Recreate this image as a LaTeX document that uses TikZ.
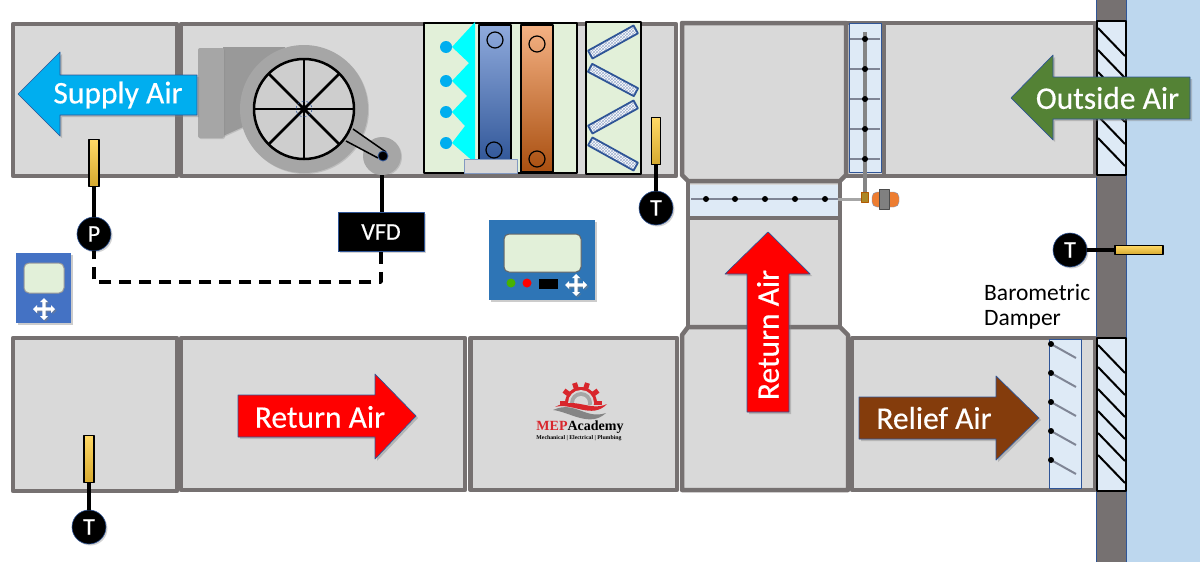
\documentclass[tikz,border=0pt]{standalone}
\usepackage{fontspec}
\setmainfont{Carlito}
\newfontfamily\airfont[FakeBold=0.4]{Carlito}
\newfontfamily\logofont{Liberation Serif}
\usetikzlibrary{shadows,patterns}

\definecolor{ductgray}{HTML}{D9D9D9}
\definecolor{ductline}{HTML}{767171}
\definecolor{outdoorblue}{HTML}{BDD7EE}
\definecolor{damperblue}{HTML}{DEEAF6}
\definecolor{panelblue}{HTML}{2F5597}
\definecolor{coilgreen}{HTML}{E2F0D9}
\definecolor{bladegray}{HTML}{7F8595}
\definecolor{fangray}{HTML}{A6A6A6}
\definecolor{supplyblue}{HTML}{00AEEF}
\definecolor{spraycyan}{HTML}{00FFFF}
\definecolor{outsidegreen}{HTML}{548235}
\definecolor{reliefbrown}{HTML}{843C0C}
\definecolor{logored}{HTML}{D8262C}
\definecolor{controlblue}{HTML}{2E75B6}
\definecolor{smallblue}{HTML}{4472C4}
\definecolor{coilblue}{HTML}{8FAADC}
\definecolor{coilorange}{HTML}{ED7D31}
\definecolor{coilpeach}{HTML}{F4B183}
\definecolor{coilbrown}{HTML}{A94F10}
\definecolor{probetop}{HTML}{FFD966}
\definecolor{probebottom}{HTML}{D6A92F}

\tikzset{
  duct/.style={draw=ductline,fill=ductgray,line width=4.5pt},
  louver/.style={draw=black,fill=damperblue,line width=2.5pt},
  damper/.style={draw=panelblue,fill=damperblue,line width=0.7pt},
  blade/.style={draw=bladegray,line width=2pt},
  airarrow/.style={draw=panelblue,line width=0.7pt,drop shadow={opacity=0.4,shadow xshift=2pt,shadow yshift=-2pt}},
  airtext/.style={text=white,font=\airfont\fontsize{31.5}{31.5}\selectfont,inner sep=0pt},
  tsensor/.style={circle,fill=black,draw=panelblue,line width=0.6pt,minimum size=34pt,inner sep=0pt,text=white,
    font=\airfont\fontsize{24}{24}\selectfont,drop shadow={opacity=0.35,shadow xshift=1.5pt,shadow yshift=-1.5pt}},
  probe/.style={rectangle,draw=black,line width=1.6pt,top color=probetop,bottom color=probebottom,inner sep=0pt},
  sensorline/.style={draw=black,line width=3.5pt},
  filterpad/.style={rectangle,draw=panelblue,line width=1.8pt,minimum width=52pt,minimum height=9pt,inner sep=0pt,
    preaction={fill=white},pattern=crosshatch,pattern color=panelblue!45},
  movecross/.pic={
    \fill[white,drop shadow={opacity=0.5,shadow xshift=1.5pt,shadow yshift=-1.5pt}]
      (-11,0)--(-7,-4)--(-7,-1.7)--(-1.7,-1.7)--(-1.7,-7)--(-4,-7)--(0,-11)--(4,-7)--(1.7,-7)--(1.7,-1.7)
      --(7,-1.7)--(7,-4)--(11,0)--(7,4)--(7,1.7)--(1.7,1.7)--(1.7,7)--(4,7)--(0,11)--(-4,7)--(-1.7,7)
      --(-1.7,1.7)--(-7,1.7)--(-7,4)--cycle;
  }
}

\begin{document}
\begin{tikzpicture}[
  x=1pt,
  y=-1pt,
  line join=round
]
  \useasboundingbox (0,0) rectangle (1200,562);

  % Outdoors and wall
  \fill[outdoorblue] (1126,0) rectangle (1200,562);
  \fill[ductline] (1096,0) rectangle (1126,562);
  \draw[panelblue,line width=0.6pt] (1096,0)--(1096,562) (1126,0)--(1126,562);

  % Upper duct row
  \draw[duct] (13,24) rectangle (177,176);
  \draw[duct] (181,24) rectangle (676,176);
  \draw[duct] (846,23) rectangle (1095,176);
  \draw[ductline,line width=4pt] (883.5,23)--(883.5,176);

  % Mixing section
  \draw[duct] (688,181) rectangle (840,218);
  \draw[duct] (688,218) rectangle (840,327);
  \draw[duct] (682,23)--(846,23)--(846,175)--(840,181)--(688,181)--(682,175)--cycle;

  % Lower duct row
  \draw[duct] (13,338) rectangle (177,491);
  \draw[duct] (181,338) rectangle (465,490);
  \draw[duct] (470.5,338) rectangle (677,490);
  \draw[duct] (682,490)--(848,490)--(848,335)--(840,327)--(688,327)--(682,335)--cycle;
  \draw[duct] (852,338) rectangle (1095,490);

  % Louvers
  \draw[louver] (1097,21) rectangle (1126,175);
  \draw[louver] (1097,338) rectangle (1126,491);
  \foreach \y in {28,50,72,94,116,138}
    \draw[black,line width=2pt] (1098,\y)--(1125,\y+28);
  \foreach \y in {345,367,389,411,433,455}
    \draw[black,line width=2pt] (1098,\y)--(1125,\y+28);

  % Outside air damper
  \draw[damper] (849,23) rectangle (881,172);
  \draw[fangray!80!black,line width=3.5pt] (865,32)--(865,193);
  \foreach \y in {39,69,99,129,159} {
    \draw[blade] (850,\y)--(880,\y);
    \fill (865,\y) circle (3);
  }

  % Return air damper
  \fill[damperblue] (690,185) rectangle (838,216);
  \draw[blade] (691,199)--(838,199);
  \draw[fangray,line width=3pt] (838,199)--(862,199);
  \foreach \x in {706,735,765,795,825}
    \fill (\x,199) circle (3);

  % Actuator
  \draw[orange!70!black,fill=probebottom!80!black,line width=0.4pt] (861,192) rectangle (868,202);
  \draw[panelblue!60,fill=coilorange,line width=0.4pt,rounded corners=5pt] (872,192) rectangle (899,207);
  \draw[black!70,fill=gray,line width=0.8pt] (879,189) rectangle (889,209);

  % Barometric damper
  \draw[damper] (1049,339) rectangle (1081,488);
  \foreach \y in {344,373,402,431,460} {
    \draw[blade] (1051,\y)--(1076,\y+14);
    \fill (1051,\y) circle (3);
  }
  \node[anchor=west,inner sep=0pt,font=\fontsize{23.5}{23.5}\selectfont] (damperlabela) at (984,292) {Barometric};
  \node[anchor=west,inner sep=0pt,font=\fontsize{23.5}{23.5}\selectfont] (damperlabelb) at (984,320) {Damper};

  % Fan housing
  \fill[fangray!92!black,drop shadow={opacity=0.3,shadow xshift=1pt,shadow yshift=-1pt}]
    (223,47)--(285,47)--(285,110)--(243,127)--(223,136)--cycle;
  \fill[fangray,rounded corners=2pt,drop shadow={opacity=0.3,shadow xshift=1pt,shadow yshift=-1pt}] (198,48) rectangle (224,138);

  % Belt
  \coordinate (beltA) at (353,129);
  \coordinate (beltB) at (386,152);
  \coordinate (beltC) at (378,158);
  \coordinate (beltD) at (346,141);

  % Motor
  \node[circle,fill=fangray,minimum size=38pt,inner sep=0pt,drop shadow={opacity=0.3,shadow xshift=1pt,shadow yshift=-1pt}] (motor) at (382,156) {};

  % Fan wheel
  \coordinate (wheel) at (304,109);
  \fill[fangray,drop shadow={opacity=0.3,shadow xshift=1pt,shadow yshift=-1pt}] (wheel) circle (64);
  \fill[fangray] (beltA)--(beltB)--(beltC)--(beltD)--cycle;
  \draw[line width=1.5pt] (beltA)--(beltB);
  \draw[line width=1.5pt] (beltD)--(beltC);
  \draw[fill=ductgray!95!black,line width=2.5pt] (wheel) circle (50);
  \foreach \a in {0,45,...,315}
    \draw[line width=2.5pt] (wheel)--++(\a:50);
  \draw[panelblue,densely dashed,line width=0.5pt] (wheel) circle (8);
  \fill (wheel) circle (4);
  \draw[panelblue,fill=black,line width=0.8pt] (383,156) circle (5);

  % Supply air arrow
  \fill[supplyblue,airarrow] (18,94)--(60,52)--(60,75)--(197,75)--(197,115)--(60,115)--(60,136)--cycle;
  \node[airtext] (supply) at (118,95) {Supply Air};

  % Outside air arrow
  \fill[outsidegreen,airarrow] (1011,98)--(1053,55)--(1053,77)--(1190,77)--(1190,119)--(1053,119)--(1053,140)--cycle;
  \node[airtext] (outside) at (1107.5,98) {Outside Air};

  % Return air arrows
  \fill[red,airarrow] (416,416)--(375,374)--(375,395)--(238,395)--(238,437)--(375,437)--(375,459)--cycle;
  \node[airtext] (returnh) at (320,417) {Return Air};
  \fill[red,airarrow] (768,232)--(810,274)--(789,274)--(789,412)--(747,412)--(747,274)--(725,274)--cycle;
  \node[airtext,rotate=90] (returnv) at (768,335) {Return Air};

  % Relief air arrow
  \fill[reliefbrown,airarrow] (1039,418)--(996,376)--(996,397)--(859,397)--(859,439)--(996,439)--(996,460)--cycle;
  \node[airtext] (relief) at (934,418) {Relief Air};

  % Coil section
  \draw[black,fill=coilgreen,line width=2.5pt] (424,23) rectangle (577,173);
  \draw[black,top color=coilblue,bottom color=panelblue,line width=2.5pt] (479,25) rectangle (511,166);
  \draw[black,top color=coilpeach,middle color=coilorange,bottom color=coilbrown,line width=2.5pt] (521,25) rectangle (553,172);
  \draw[line width=1.2pt] (495,40) circle (8);
  \draw[line width=1.2pt] (494,150) circle (8);
  \draw[line width=1.2pt] (537,44) circle (8);
  \draw[line width=1.2pt] (537,159) circle (8);

  % Spray
  \fill[spraycyan] (475,22)--(452,47)--(469,63)--(452,81)--(467,96)--(452,112)--(465,126)--(452,143)--(475,163)--cycle;
  \foreach \y in {47,81,112,143}
    \fill[supplyblue] (446,\y) circle (6);
  \draw[panelblue!60,fill=ductgray,line width=0.7pt] (464,159) rectangle (517,173);

  % Filters
  \draw[black,fill=coilgreen,line width=2.5pt] (586,22) rectangle (641,174);
  \node[filterpad,rotate=29] (filtera) at (613,42) {};
  \node[filterpad,rotate=-28] (filterb) at (613,80) {};
  \node[filterpad,rotate=29] (filterc) at (613,117) {};
  \node[filterpad,rotate=-29] (filterd) at (613,154) {};

  % Sensors
  \node[probe,minimum width=10pt,minimum height=47pt] (supplyprobe) at (94,163) {};
  \node[tsensor] (psensor) at (94,234) {P};
  \draw[sensorline] (supplyprobe)--(psensor);
  \node[probe,minimum width=9pt,minimum height=47pt] (mixprobe) at (656,141) {};
  \node[tsensor] (mixsensor) at (656,208) {T};
  \draw[sensorline] (mixprobe)--(mixsensor);
  \node[probe,minimum width=10pt,minimum height=47pt] (returnprobe) at (89,459) {};
  \node[tsensor] (returnsensor) at (89,527) {T};
  \draw[sensorline] (returnprobe)--(returnsensor);
  \node[probe,minimum width=48pt,minimum height=9pt] (outprobe) at (1139,250) {};
  \node[tsensor] (outsensor) at (1070,250) {T};
  \draw[sensorline] (outsensor)--(outprobe);

  % Drive and control wiring
  \node[rectangle,fill=black,draw=panelblue,line width=0.5pt,minimum width=86pt,minimum height=39pt,inner sep=0pt,text=white,
    font=\airfont\fontsize{24}{24}\selectfont,drop shadow={opacity=0.35,shadow xshift=1.5pt,shadow yshift=-1.5pt}] (vfd) at (381,232) {VFD};
  \draw[sensorline,line width=4.5pt] (motor.south)--(motor.south |- vfd.north);
  \coordinate (wirecorner) at (94,282);
  \draw[sensorline,dash pattern=on 12pt off 8pt] (vfd.south)|-(wirecorner)--(psensor.south);

  % Main controller
  \fill[controlblue,drop shadow={opacity=0.4,shadow xshift=1.5pt,shadow yshift=-1.5pt}] (489,220) rectangle (595,300);
  \draw[black!60,fill=coilgreen,line width=1pt,rounded corners=5pt] (504,234) rectangle (581,272);
  \fill[green!60!yellow!70!black] (511,283) circle (4.5);
  \fill[red] (527,283) circle (4.5);
  \fill (539,279) rectangle (558,289);
  \pic at (576,285) {movecross};

  % Small controller
  \fill[smallblue,drop shadow={opacity=0.4,shadow xshift=1.5pt,shadow yshift=-1.5pt}] (16,253) rectangle (71,323);
  \draw[black!40,fill=coilgreen,line width=1pt,rounded corners=5pt] (24,263) rectangle (64,293);
  \pic at (44,309) {movecross};

  % Logo
  \foreach \a in {0,36,...,324}
    \draw[logored,line width=5pt,shift={(581,403)}] (\a:14)--(\a:21);
  \fill[logored] (581,403) circle (16);
  \fill[ductgray] (581,403) circle (13);
  \fill[fangray] (581,403) circle (11);
  \fill[ductgray] (581,403) circle (7);
  \fill[ductgray] (550,405) rectangle (612,428);
  \fill[fangray!80!black] (553,410) .. controls (575,400) and (585,420) .. (606,413) .. controls (590,428) and (570,412) .. cycle;
  \fill[logored] (555,407) .. controls (575,396) and (590,412) .. (607,404) .. controls (592,420) and (572,402) .. cycle;
  \node[inner sep=0pt,font=\logofont\bfseries\fontsize{14}{14}\selectfont] (logotext) at (580,427) {\textcolor{logored}{MEP}Academy};
  \node[inner sep=0pt,font=\logofont\bfseries\fontsize{5.8}{5.8}\selectfont] (logosub) at (579,438) {Mechanical | Electrical | Plumbing};
\end{tikzpicture}
\end{document}
